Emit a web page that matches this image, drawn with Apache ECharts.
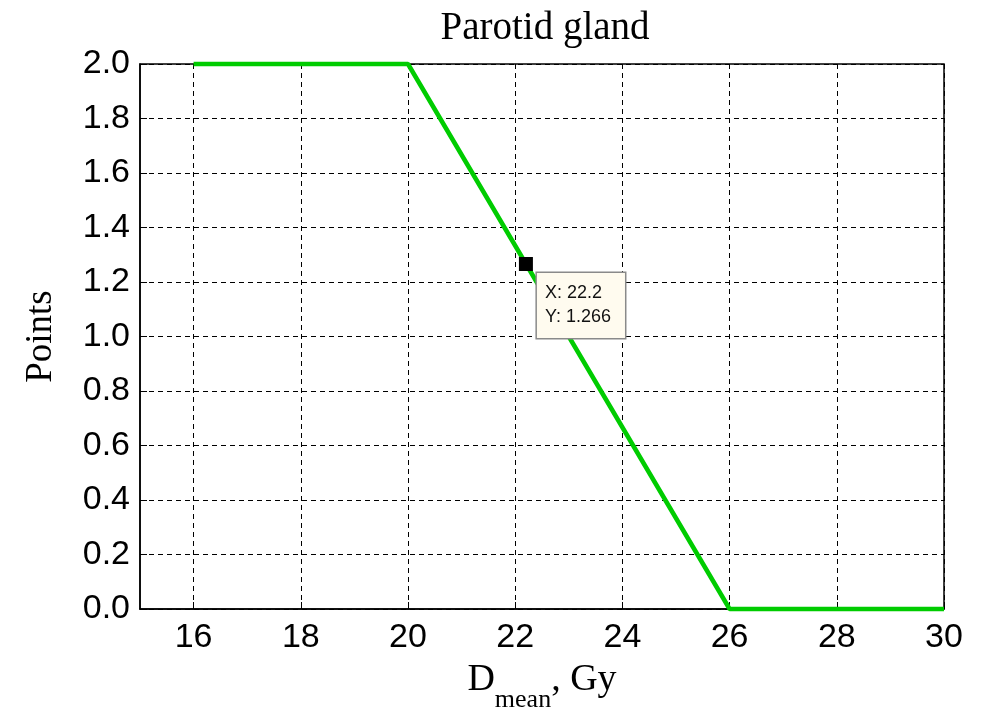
<!DOCTYPE html>
<html>
<head>
<meta charset="utf-8">
<title>Parotid gland</title>
<script src="https://cdn.jsdelivr.net/npm/echarts@6/dist/echarts.min.js"></script>
<style>
  html, body { margin: 0; padding: 0; background: #fff; }
  #chart { width: 994px; height: 707px; }
</style>
</head>
<body>
<div id="chart"></div>
<script>
// dose (Gy) vs points
const doseValues = [16, 20, 26, 30];
const pointValues = [2.0, 2.0, 0.0, 0.0];
const xTicks = [16, 18, 20, 22, 24, 26, 28, 30];
const dataTip = [22.2, 1.266];

const chart = echarts.init(document.getElementById('chart'));

const gridLine = { show: true, lineStyle: { color: '#000', width: 1, type: [5, 4] } };

chart.setOption({
    backgroundColor: '#fff',
    animation: false,
    title: {
        text: 'Parotid gland',
        left: 540,
        textAlign: 'center',
        top: 4,
        textStyle: { fontFamily: 'Liberation Serif', fontSize: 39, fontWeight: 'normal', color: '#000' }
    },
    grid: {
        left: 140, right: 50, top: 64, bottom: 98,
        outerBoundsMode: 'none',
        show: true, borderColor: '#000', borderWidth: 1.5, backgroundColor: '#fff'
    },
    xAxis: {
        type: 'value',
        min: 15, max: 30,
        axisLine: { show: true, lineStyle: { color: '#000', width: 1.5 } },
        axisTick: { show: true, inside: true, length: 7, customValues: xTicks, lineStyle: { color: '#000' } },
        axisLabel: {
            customValues: xTicks, margin: 12, color: '#000',
            fontFamily: 'Liberation Sans', fontSize: 34
        },
        splitLine: gridLine,
        name: '{d|D}{s|mean}{d|, Gy}',
        nameLocation: 'middle',
        nameGap: 52,
        nameTextStyle: {
            rich: {
                d: { fontFamily: 'Liberation Serif', fontSize: 38, color: '#000', verticalAlign: 'bottom' },
                s: { fontFamily: 'Liberation Serif', fontSize: 26, color: '#000', padding: [0, 0, -14, 0], verticalAlign: 'bottom' }
            }
        }
    },
    yAxis: {
        type: 'value',
        min: 0, max: 2, interval: 0.2,
        axisLine: { show: true, lineStyle: { color: '#000', width: 1.5 } },
        axisTick: { show: true, inside: true, length: 7, lineStyle: { color: '#000' } },
        axisLabel: {
            margin: 10, color: '#000',
            fontFamily: 'Liberation Sans', fontSize: 34,
            formatter: v => v.toFixed(1)
        },
        splitLine: gridLine,
        name: 'Points',
        nameLocation: 'middle',
        nameGap: 80,
        nameTextStyle: { fontFamily: 'Liberation Serif', fontSize: 37, color: '#000' }
    },
    series: [{
        type: 'line',
        data: doseValues.map((d, i) => [d, pointValues[i]]),
        showSymbol: false,
        clip: false,
        lineStyle: { color: '#00cc00', width: 4.5 },
        z: 3,
        markPoint: {
            symbol: 'rect',
            symbolSize: 14,
            itemStyle: { color: '#000' },
            data: [{ coord: dataTip }],
            label: {
                show: true,
                position: [18, 16],
                formatter: () => 'X: ' + dataTip[0] + '\nY: ' + dataTip[1],
                align: 'left',
                verticalAlign: 'top',
                fontFamily: 'Liberation Sans',
                fontSize: 18,
                lineHeight: 24,
                color: '#111',
                backgroundColor: '#fffbef',
                borderColor: '#8a8a8a',
                borderWidth: 1.5,
                padding: [8, 14, 9, 8]
            }
        }
    }]
});
</script>
</body>
</html>
